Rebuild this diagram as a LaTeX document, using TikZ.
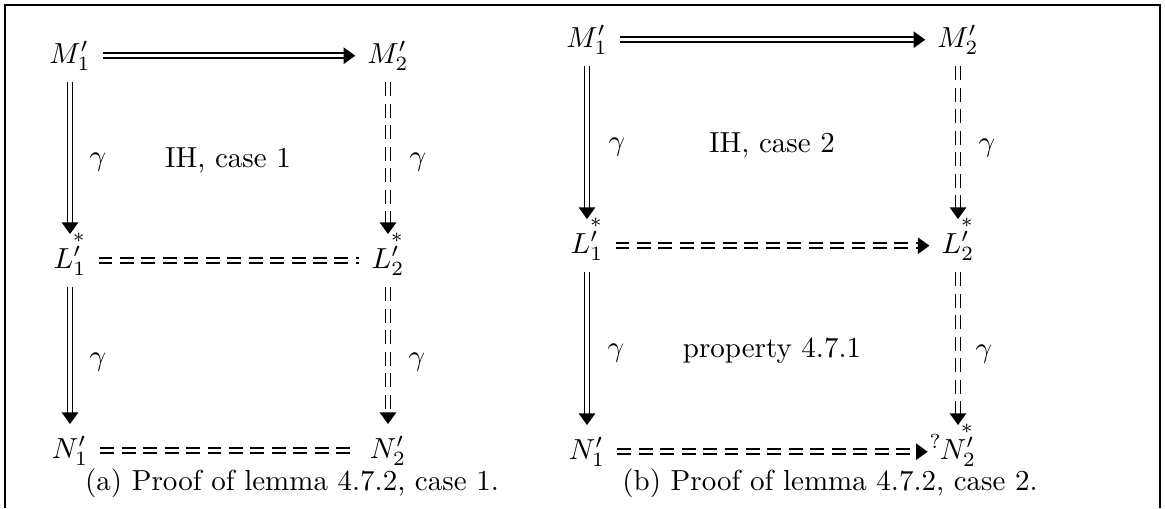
\documentclass[tikz,border=0pt]{standalone}
\usetikzlibrary{arrows.meta}

\tikzset{
  obj/.style={inner sep=4pt,anchor=base},
  eqv/.style={double,double distance=1.1pt,line width=0.6pt},
  deqv/.style={eqv,dash pattern=on 4.8pt off 2.6pt},
  arr/.style={-{Triangle[length=4pt,width=5.6pt]}},
  astk/.style={pos=1,anchor=west,inner sep=0pt,font=\scriptsize,xshift=0.7pt,yshift=-1.4pt},
  qmark/.style={pos=1,anchor=west,inner sep=0pt,font=\scriptsize,xshift=0.4pt,yshift=3.6pt},
  lbl/.style={anchor=base}
}

\begin{document}
\begin{tikzpicture}[x=0.345pt,y=-0.345pt]
  \useasboundingbox (0,0) rectangle (1165,508);
  \draw[line width=1pt] (5,508) -- (5,5) -- (1160,5) -- (1160,508);

  % (a) case 1
  \begin{scope}
    \def\xl{70} \def\xr{388}
    \node[obj] (m1a) at (\xl,63) {$M'_1$};
    \node[obj] (m2a) at (\xr,63) {$M'_2$};
    \node[obj] (l1a) at (\xl,268) {$L'_1$};
    \node[obj] (l2a) at (\xr,268) {$L'_2$};
    \node[obj] (n1a) at (\xl,458) {$N'_1$};
    \node[obj] (n2a) at (\xr,458) {$N'_2$};
    \draw[eqv,arr] (m1a) -- (m2a);
    \draw[eqv,arr] (m1a) -- (l1a) node[astk]{$*$};
    \draw[deqv,arr] (m2a) -- (l2a) node[astk]{$*$};
    \draw[deqv] (l1a) -- (l2a);
    \draw[eqv,arr] (l1a) -- (n1a);
    \draw[deqv,arr] (l2a) -- (n2a);
    \draw[deqv] (n1a) -- (n2a);
    \node[lbl] (g1a) at (98,165) {$\gamma$};
    \node[lbl] (g2a) at (418,165) {$\gamma$};
    \node[lbl] (g3a) at (98,365) {$\gamma$};
    \node[lbl] (g4a) at (417,365) {$\gamma$};
    \node[lbl] (iha) at (228,167) {IH, case 1};
    \node[lbl] (capa) at (292,490) {(a) Proof of lemma 4.7.2, case 1.};
  \end{scope}

  % (b) case 2
  \begin{scope}
    \def\xl{587} \def\xr{958}
    \node[obj] (m1b) at (\xl,47) {$M'_1$};
    \node[obj] (m2b) at (\xr,47) {$M'_2$};
    \node[obj] (l1b) at (\xl,253) {$L'_1$};
    \node[obj] (l2b) at (\xr,253) {$L'_2$};
    \node[obj] (n1b) at (\xl,459) {$N'_1$};
    \node[obj] (n2b) at (\xr,459) {$N'_2$};
    \draw[eqv,arr] (m1b) -- (m2b);
    \draw[eqv,arr] (m1b) -- (l1b) node[astk]{$*$};
    \draw[deqv,arr] (m2b) -- (l2b) node[astk]{$*$};
    \draw[deqv,arr] (l1b) -- (l2b);
    \draw[eqv,arr] (l1b) -- (n1b);
    \draw[deqv,arr] (l2b) -- (n2b) node[astk]{$*$};
    \draw[deqv,arr] (n1b) -- (n2b) node[qmark]{?};
    \node[lbl] (g1b) at (617,150) {$\gamma$};
    \node[lbl] (g2b) at (987,151) {$\gamma$};
    \node[lbl] (g3b) at (616,356) {$\gamma$};
    \node[lbl] (g4b) at (984,357) {$\gamma$};
    \node[lbl] (ihb) at (772,152) {IH, case 2};
    \node[lbl] (propb) at (772,357) {property 4.7.1};
    \node[lbl] (capb) at (830,490) {(b) Proof of lemma 4.7.2, case 2.};
  \end{scope}
\end{tikzpicture}
\end{document}
